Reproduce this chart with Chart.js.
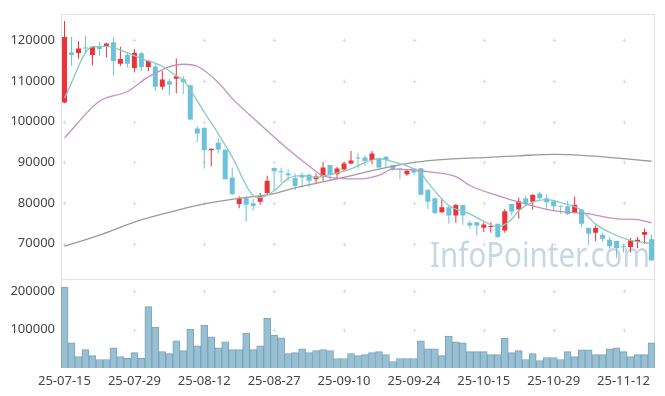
<!DOCTYPE html>
<html>
<head>
<meta charset="utf-8">
<script src="https://cdn.jsdelivr.net/npm/chart.js@4.4.1/dist/chart.umd.min.js"></script>
<style>
  html, body { margin: 0; padding: 0; background: #fff; }
</style>
</head>
<body>
<canvas id="stockChart" width="665" height="396"></canvas>
<script>
// trading days shown (yy-mm-dd)
const dates = [
  '25-07-15','25-07-16','25-07-17','25-07-18','25-07-21','25-07-22','25-07-23','25-07-24','25-07-25','25-07-28','25-07-29','25-07-30','25-07-31',
  '25-08-01','25-08-04','25-08-05','25-08-06','25-08-07','25-08-08','25-08-11','25-08-12','25-08-13','25-08-14','25-08-18','25-08-19','25-08-20',
  '25-08-21','25-08-22','25-08-25','25-08-26','25-08-27','25-08-28','25-08-29',
  '25-09-01','25-09-02','25-09-03','25-09-04','25-09-05','25-09-08','25-09-09','25-09-10','25-09-11','25-09-12','25-09-15','25-09-16','25-09-17',
  '25-09-18','25-09-19','25-09-22','25-09-23','25-09-24','25-09-25','25-09-26','25-09-29','25-09-30',
  '25-10-01','25-10-02','25-10-10','25-10-13','25-10-14','25-10-15','25-10-16','25-10-17','25-10-20','25-10-21','25-10-22','25-10-23','25-10-24',
  '25-10-27','25-10-28','25-10-29','25-10-30','25-10-31',
  '25-11-03','25-11-04','25-11-05','25-11-06','25-11-07','25-11-10','25-11-11','25-11-12','25-11-13','25-11-14','25-11-17','25-11-18'
];

const openP = [
  104700,117000,116860,118240,116370,118490,118490,119500,114220,116370,113200,116780,113440,113530,108570,109950,110520,110400,108950,98300,
  98460,92930,94800,93090,86260,79750,81140,79910,80330,82440,88620,87800,87230,86110,86920,86920,85860,86430,89360,87080,
  88220,89690,91150,91150,90580,90990,91390,89360,88460,87080,88460,88540,83250,81130,77720,78940,76910,79510,75120,75280,
  73900,74070,74880,73250,79750,78370,81130,80320,82350,81130,80400,79340,79180,77560,78370,73820,72680,72190,70980,70650,
  69350,69190,70410,72190,71060
];
const highP = [
  124700,120800,119830,121130,118560,119500,119410,120820,118400,116940,117760,117100,115110,114100,112470,110600,115530,111300,109000,98870,
  98500,93400,95850,93200,88700,81630,81630,80970,82440,86670,88700,88700,88290,87250,87490,87250,87250,90090,89400,88870,
  90090,92780,92370,91800,92780,91150,91400,89400,88500,88300,88500,88600,83300,81370,80970,79180,79750,79550,75690,75300,
  75280,75280,74900,78530,79800,81370,81780,82190,82760,82190,80810,79400,80560,81620,78400,73850,74470,72680,71630,70700,
  70000,71380,71630,73660,72190
];
const lowP = [
  104500,113750,115450,116860,113850,116190,115750,111290,113690,113280,112060,112470,112390,107590,107830,106540,106950,106800,100300,94960,
  88460,88950,92200,85800,81950,78700,75530,78130,79590,82190,83000,85040,85450,83180,83830,83830,84800,85460,85460,85860,
  87890,89520,88300,89120,89520,88550,88550,87890,85860,86670,86800,81900,78530,77310,77560,74880,75120,74630,73660,72030,
  72840,72680,71380,72680,76910,76100,79510,78370,80970,78530,77880,77310,77070,77500,74060,69760,70570,70410,68780,66510,
  67810,67810,68950,70000,65700
];
const closeP = [
  120800,116350,118000,118000,118400,117840,119170,114870,115360,114220,116940,113440,114870,108570,110360,109060,111170,109700,100500,97080,
  92930,93340,93170,85850,82190,81140,79590,79260,81630,85450,87800,87560,86830,84160,86270,85460,86510,88710,86920,88460,
  89690,90420,90910,90340,92130,88710,90580,88300,88140,87890,87490,82040,80320,77560,78940,76910,79510,76910,74470,74470,
  74720,74310,71630,77960,77880,80400,79750,81950,81130,80160,79180,79100,77310,79590,74880,72440,73820,71220,69350,68950,
  69110,70820,70980,72840,65940
];
const volume = [
  210500,65400,29800,47600,32300,22100,22100,52700,29800,25400,40000,25400,159600,106100,42500,37400,70500,45000,101000,57800,
  111200,80700,52700,68000,47600,47600,90800,47600,57800,129000,85800,78100,37400,40000,50100,40000,45000,47600,45000,24700,
  24700,37300,32200,34800,39900,42400,34800,17000,24600,24600,24600,70400,50100,50100,32200,83100,67900,65300,42400,42400,
  42400,34800,34800,78000,39900,45000,22100,37300,19500,27200,27200,22100,42400,29700,47500,47500,34800,34800,50100,52600,
  42400,29700,34800,34800,65300
];

// moving averages: [day index, value]
const ma5Pts = [
  [0,105800],[4,118400],[6,118500],[9,116900],[11,115500],[14,113600],[16,111200],[17,110200],[20,102300],[22,97000],
  [24,91300],[27,81800],[28,81300],[30,83000],[32,86000],[34,86700],[36,86300],[38,87000],[41,88400],[43,89900],
  [45,90900],[47,90100],[49,89100],[51,87300],[52,85000],[55,79400],[58,77300],[60,75500],[62,74100],[64,76000],
  [65,78100],[67,80200],[69,80800],[71,80100],[73,79100],[74,78200],[76,74800],[78,72800],[81,70800],[84,70000]
];
const ma20Pts = [
  [0,96000],[5,105000],[9,107400],[12,111000],[17,114100],[19,113600],[22,109600],[24,105700],[28,99300],[32,93200],
  [35,89100],[37,86700],[40,86000],[42,85900],[45,86800],[47,88300],[50,88100],[52,87700],[56,86500],[58,84300],
  [62,81800],[65,80200],[70,78100],[75,77300],[79,76100],[82,75900],[84,75100]
];
const ma60Pts = [
  [0,69400],[5,72100],[10,75300],[15,77700],[20,79750],[25,81150],[30,82300],[33,83700],[40,86300],[45,88300],
  [50,90000],[55,90800],[60,91150],[65,91600],[70,91950],[75,91600],[80,90900],[84,90250]
];

const priceTicks = [70000, 80000, 90000, 100000, 110000, 120000];
const volTicks = [100000, 200000];

const upColor = '#ec3338';
const downColor = '#6cc2da';

function toSeries(pts){
  let arr = dates.map(()=>null);
  pts.forEach(p => { arr[p[0]] = p[1]; });
  return arr;
}

let candleColors = dates.map((d, i) => closeP[i] >= openP[i] ? upColor : downColor);

// little "+" marks where grid lines would cross, panel borders, watermark
const crossPlugin = {
  id: 'crosses',
  beforeDatasetsDraw(chart){
    const ctx = chart.ctx;
    const xs = chart.scales.x;
    const area = chart.chartArea;
    ctx.save();
    ctx.strokeStyle = '#e2e2e2';
    ctx.lineWidth = 1;
    ['y','yVol'].forEach(id => {
      const s = chart.scales[id];
      ctx.strokeRect(Math.round(area.left) + 0.5, Math.round(s.top) + 0.5,
        Math.round(area.right - area.left) - 1, Math.round(s.bottom - s.top) - 1);
    });
    ctx.strokeStyle = '#dedede';
    [['y', priceTicks], ['yVol', volTicks]].forEach(pair => {
      const s = chart.scales[pair[0]];
      pair[1].forEach(v => {
        const py = Math.round(s.getPixelForValue(v)) + 0.5;
        dates.forEach((d, i) => {
          if (i % 10 !== 0) return;
          const px = Math.round(xs.getPixelForValue(i)) + 0.5;
          ctx.beginPath();
          ctx.moveTo(px - 2, py); ctx.lineTo(px + 2, py);
          ctx.moveTo(px, py - 2); ctx.lineTo(px, py + 2);
          ctx.stroke();
        });
      });
    });
    const txt = 'InfoPointer.com';
    ctx.font = '35px "Noto Sans", sans-serif';
    ctx.fillStyle = 'rgba(160, 190, 212, 0.6)';
    ctx.textBaseline = 'alphabetic';
    const w = ctx.measureText(txt).width;
    ctx.translate(430, 267);
    ctx.scale(220 / w, 1);
    ctx.fillText(txt, 0, 0);
    ctx.restore();
  }
};

Chart.defaults.font.family = '"Noto Sans", sans-serif';
Chart.defaults.font.size = 13;
Chart.defaults.color = '#444';

let chart = new Chart(document.getElementById('stockChart'), {
  type: 'bar',
  data: {
    labels: dates,
    datasets: [
      {
        type: 'line', label: 'MA5', data: toSeries(ma5Pts), yAxisID: 'y',
        borderColor: '#86cbbf', borderWidth: 1.3, pointRadius: 0, spanGaps: true,
        cubicInterpolationMode: 'monotone', order: 0
      },
      {
        type: 'line', label: 'MA20', data: toSeries(ma20Pts), yAxisID: 'y',
        borderColor: '#c98dc6', borderWidth: 1.3, pointRadius: 0, spanGaps: true,
        cubicInterpolationMode: 'monotone', order: 0
      },
      {
        type: 'line', label: 'MA60', data: toSeries(ma60Pts), yAxisID: 'y',
        borderColor: '#9a9a9a', borderWidth: 1.3, pointRadius: 0, spanGaps: true,
        cubicInterpolationMode: 'monotone', order: 0
      },
      {
        label: 'body', data: dates.map((d, i) => [openP[i], closeP[i]]), yAxisID: 'y',
        backgroundColor: candleColors, grouped: false, maxBarThickness: 5, minBarLength: 1, order: 1
      },
      {
        label: 'wick', data: dates.map((d, i) => [lowP[i], highP[i]]), yAxisID: 'y',
        backgroundColor: candleColors, grouped: false, maxBarThickness: 1, order: 2
      },
      {
        label: 'volume', data: volume, yAxisID: 'yVol',
        backgroundColor: '#98bfd2', borderColor: '#79a5bb', borderWidth: 1,
        grouped: false, barPercentage: 1, categoryPercentage: 1, order: 3
      }
    ]
  },
  options: {
    responsive: false,
    animation: false,
    devicePixelRatio: 1,
    layout: { padding: { top: 10, right: 10, left: 0, bottom: 0 } },
    plugins: { legend: { display: false }, tooltip: { enabled: false } },
    scales: {
      x: {
        grid: { display: false, drawTicks: false },
        border: { display: false },
        ticks: {
          autoSkip: false, maxRotation: 0, padding: 5,
          callback: (v, i) => i % 10 === 0 ? dates[i] : ''
        },
        afterFit: s => { s.height = 28; }
      },
      y: {
        position: 'left', stack: 'panels', stackWeight: 3, weight: 2,
        min: 61200, max: 126500,
        grid: { display: false, drawTicks: false },
        border: { display: false },
        ticks: { padding: 6, callback: v => String(v) },
        afterBuildTicks: s => { s.ticks = priceTicks.map(v => ({ value: v })); },
        afterFit: s => { s.width = 61; }
      },
      yVol: {
        position: 'left', stack: 'panels', stackWeight: 1, weight: 1,
        min: 0, max: 230000,
        grid: { display: false, drawTicks: false },
        border: { display: false },
        ticks: { padding: 6, callback: v => String(v) },
        afterBuildTicks: s => { s.ticks = volTicks.map(v => ({ value: v })); },
        afterFit: s => { s.width = 61; }
      }
    }
  },
  plugins: [crossPlugin]
});
</script>
</body>
</html>
